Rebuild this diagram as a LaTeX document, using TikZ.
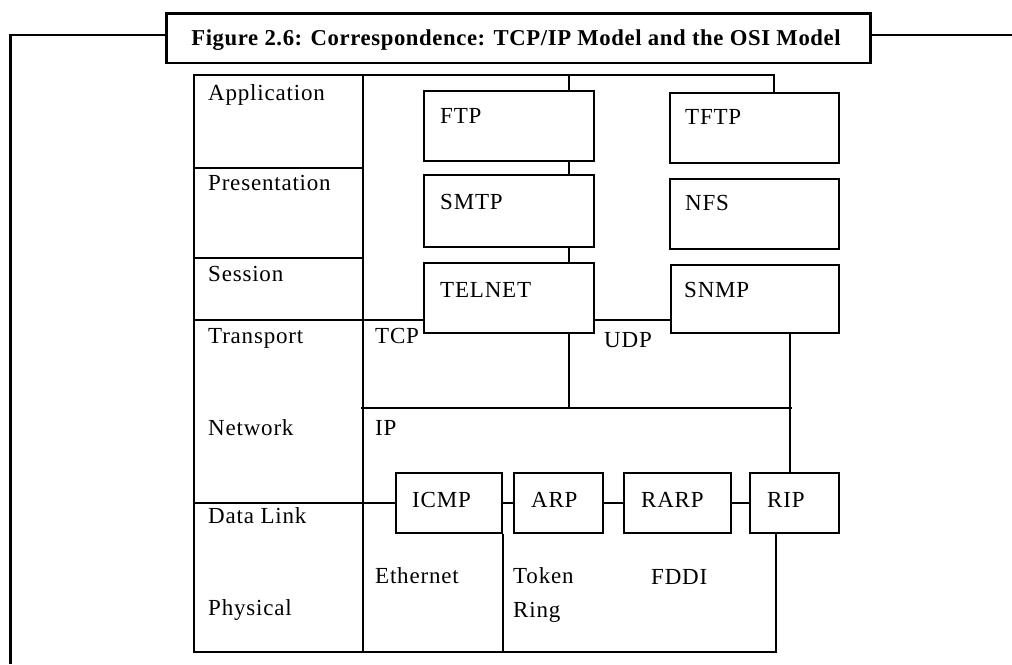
\documentclass[tikz,border=0pt]{standalone}
\usepackage{fontspec}
\setmainfont{Liberation Serif}
\newfontfamily\labelfont[LetterSpace=3.5]{Liberation Serif}
\newfontfamily\captionfont[LetterSpace=2.7]{Liberation Serif}
\begin{document}
\begin{tikzpicture}[x=1pt,y=-1pt,
  frame/.style={line width=2.8pt},
  grid/.style={line width=1.7pt},
  protobox/.style={draw, line width=1.7pt, anchor=north west, inner sep=0pt},
  lbl/.style={anchor=base west, inner sep=0pt, font=\labelfont\fontsize{23}{23}\selectfont},
  captiontext/.style={anchor=base, inner sep=0pt, font=\captionfont\bfseries\fontsize{22.7}{22.7}\selectfont}]
\useasboundingbox (0,0) rectangle (1012,664);

% caption box and surrounding frame
\node[draw, frame, anchor=north west, inner sep=0pt, minimum width=704pt, minimum height=49.5pt] (title) at (165,12) {};
\node[captiontext] (titletext) at (516,45) {Figure 2.6: Correspondence: TCP/IP Model and the OSI Model};
\coordinate (rail) at (0,35);
\draw[frame] (10.5,664) |- (title.west |- rail);
\draw[frame] (title.east |- rail) -- (1012,35);

% protocol boxes
\node[protobox, minimum width=170pt, minimum height=70pt] (ftp)    at (423,90)  {};
\node[protobox, minimum width=170pt, minimum height=72pt] (smtp)   at (423,174) {};
\node[protobox, minimum width=170pt, minimum height=70pt] (telnet) at (423,262) {};
\node[protobox, minimum width=169pt, minimum height=70pt] (tftp)   at (669,92)  {};
\node[protobox, minimum width=169pt, minimum height=70pt] (nfs)    at (669,178) {};
\node[protobox, minimum width=168pt, minimum height=68pt] (snmp)   at (670,264) {};
\node[protobox, minimum width=106pt, minimum height=60pt] (icmp)   at (395,472) {};
\node[protobox, minimum width=89pt,  minimum height=60pt] (arp)    at (513,472) {};
\node[protobox, minimum width=107pt, minimum height=60pt] (rarp)   at (623,472) {};
\node[protobox, minimum width=89pt,  minimum height=60pt] (rip)    at (749,472) {};

% vertical rails
\coordinate (va) at (569,0);
\coordinate (vb) at (774,0);
\coordinate (vc) at (790,0);
\coordinate (vd) at (776,0);
\coordinate (left) at (194,0);

% OSI column and outer outline
\draw[grid] (tftp.north -| vb) |- (194,75) -- (194,652) -| (rip.south -| vd);
\draw[grid] (363,75) -- (363,652);
\draw[grid] (194,168) -- (363,168);
\draw[grid] (194,258) -- (363,258);
\draw[grid] (194,320) -- (telnet.west |- 0,320);
\draw[grid] (icmp.west -| left) -- (icmp.west);

% application stack links
\draw[grid] (va |- 0,75) -- (ftp.north -| va);
\draw[grid] (ftp.south -| va) -- (smtp.north -| va);
\draw[grid] (smtp.south -| va) -- (telnet.north -| va);
\draw[grid] (telnet.south -| va) -- (va |- 0,408);
\draw[grid] (telnet.east |- 0,320) -- (snmp.west |- 0,320);

% IP layer
\draw[grid] (361,408) -- (792,408);
\draw[grid] (snmp.south -| vc) -- (rip.north -| vc);
\draw[grid] (icmp.east) -- (arp.west);
\draw[grid] (arp.east) -- (rarp.west);
\draw[grid] (rarp.east) -- (rip.west);
\draw[grid] (icmp.south east) -- (icmp.south east |- 0,652);

% OSI layer names
\node[lbl] (l-app)  at (208,100) {Application};
\node[lbl] (l-pres) at (208,190) {Presentation};
\node[lbl] (l-sess) at (208,281) {Session};
\node[lbl] (l-tran) at (208,343) {Transport};
\node[lbl] (l-net)  at (208,435) {Network};
\node[lbl] (l-dl)   at (208,523) {Data Link};
\node[lbl] (l-phy)  at (208,615) {Physical};

% TCP/IP labels
\node[lbl] (t-tcp)  at (375,343) {TCP};
\node[lbl] (t-udp)  at (604,347) {UDP};
\node[lbl] (t-ip)   at (375,435) {IP};
\node[lbl] (t-eth)  at (375,583) {Ethernet};
\node[lbl] (t-tok)  at (513,583) {Token};
\node[lbl] (t-ring) at (513,617) {Ring};
\node[lbl] (t-fddi) at (651,584) {FDDI};

% protocol names
\node[lbl] at (440,123) {FTP};
\node[lbl] at (440,209) {SMTP};
\node[lbl] at (440,297) {TELNET};
\node[lbl] at (685,124) {TFTP};
\node[lbl] at (685,210) {NFS};
\node[lbl] at (684,297) {SNMP};
\node[lbl] at (412,507) {ICMP};
\node[lbl] at (531,507) {ARP};
\node[lbl] at (641,507) {RARP};
\node[lbl] at (767,507) {RIP};
\end{tikzpicture}
\end{document}
